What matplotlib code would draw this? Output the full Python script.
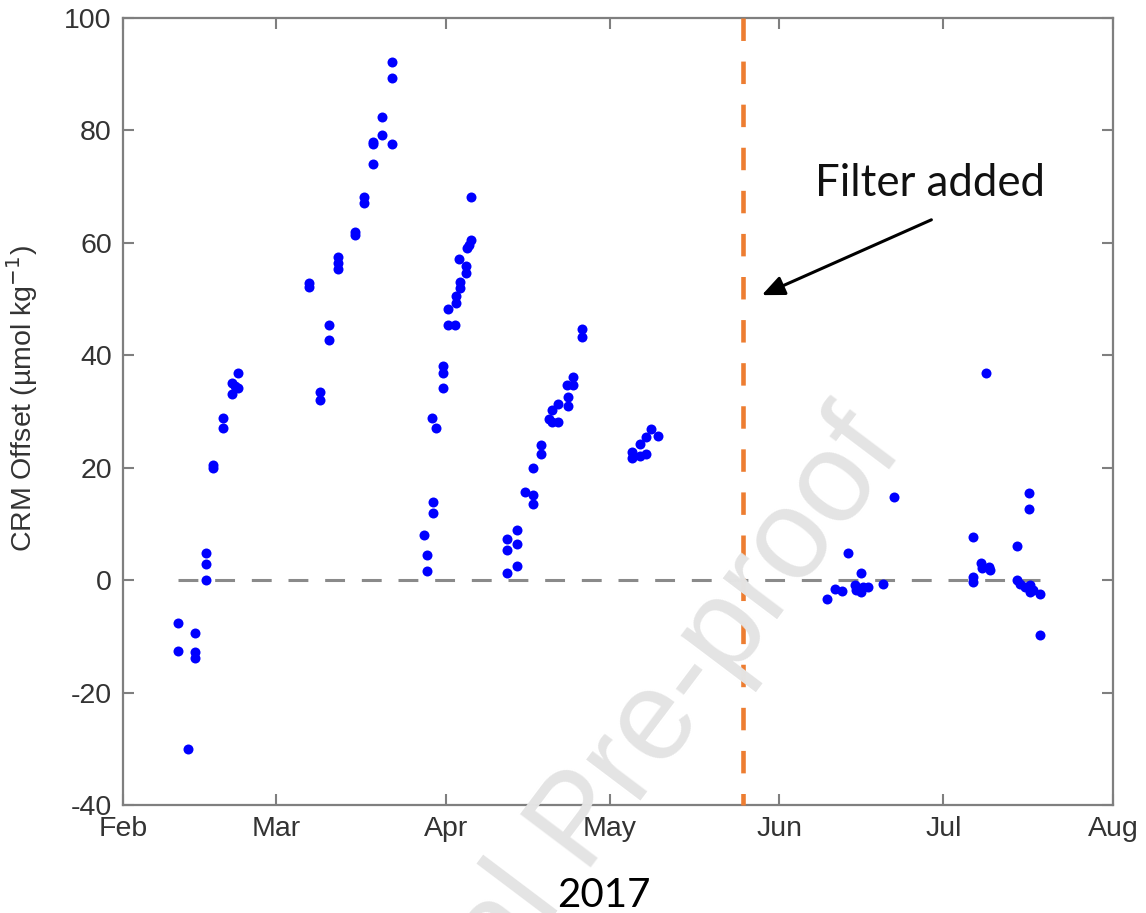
import numpy as np
import matplotlib
matplotlib.use("Agg")
import matplotlib.pyplot as plt
import matplotlib.dates as mdates

# ---- data (day of year 2017, CRM offset in umol/kg) ----
day_of_year = [
    42.1, 42.1, 43.8, 45.2, 45.2, 45.2, 47.2, 47.2, 47.2, 48.5, 48.5, 50.2, 50.2,
    51.9, 52.5, 51.9, 53.1, 53.1,
    66.0, 66.0, 68.0, 68.0, 69.7, 69.7, 71.4, 71.4, 71.4, 74.4, 74.4, 76.1, 76.1,
    77.8, 77.8, 77.8, 79.4, 79.4, 81.1, 81.1, 81.1,
    87.0, 87.5, 87.5, 88.6, 88.6, 88.5, 89.3, 90.5, 90.5, 90.5, 91.5, 91.5, 92.7,
    92.8, 92.8, 93.6, 93.6, 93.5, 94.8, 94.8, 94.9, 95.2, 95.6, 95.6,
    102.3, 102.3, 102.3, 104.0, 104.0, 104.0, 105.5, 107.0, 106.9, 106.9, 108.5,
    108.5, 109.9, 110.4, 111.6, 110.4, 111.6, 113.3, 113.3, 113.1, 114.3, 114.3,
    116.0, 116.0,
    125.1, 125.1, 126.5, 126.5, 127.7, 127.7, 128.6, 129.9,
    160.8, 162.2, 163.4, 164.6, 165.8, 166.4, 167.3, 168.3, 167.0, 166.1, 167.0,
    170.9, 173.0,
    187.4, 187.4, 187.4, 188.8, 189.0, 190.4, 190.5, 189.7,
    195.5, 195.5, 196.0, 196.9, 197.8, 197.8, 198.4, 199.6, 199.6, 197.6, 197.6,
]
crm_offset = [
    -7.7, -12.6, -30.0, -9.4, -12.8, -13.9, 4.9, 2.8, 0.0, 20.5, 20.0, 28.8, 27.0,
    35.1, 34.5, 33.2, 34.1, 36.8,
    52.8, 52.1, 33.5, 32.0, 45.4, 42.8, 57.5, 56.4, 55.3, 62.0, 61.4, 68.2, 67.0,
    78.0, 77.6, 74.0, 82.4, 79.2, 92.2, 89.4, 77.6,
    8.1, 4.4, 1.7, 13.9, 11.9, 28.8, 27.0, 38.1, 36.8, 34.2, 48.2, 45.4, 45.4,
    50.6, 49.3, 53.1, 51.9, 57.2, 55.9, 54.7, 59.0, 59.6, 60.5, 68.2,
    7.4, 5.3, 1.3, 9.0, 6.5, 2.5, 15.7, 15.1, 13.5, 20.0, 24.0,
    22.5, 28.6, 28.2, 28.2, 30.2, 31.4, 32.6, 31.0, 34.7, 36.1, 34.7,
    44.6, 43.3,
    22.8, 21.7, 24.2, 22.1, 25.5, 22.4, 26.9, 25.7,
    -3.3, -1.5, -1.9, 4.9, -0.9, -1.5, -1.2, -1.2, -2.1, -1.8, 1.3,
    -0.6, 14.7,
    7.7, 0.6, -0.3, 3.0, 2.1, 2.4, 1.8, 36.8,
    6.1, 0.0, -0.6, -1.3, -0.9, -2.1, -1.8, -2.5, -9.8, 15.5, 12.6,
]
month_starts = ["2017-02-01", "2017-03-01", "2017-04-01", "2017-05-01",
                "2017-06-01", "2017-07-01", "2017-08-01"]
month_labels = ["Feb", "Mar", "Apr", "May", "Jun", "Jul", "Aug"]
y_ticks = [-40, -20, 0, 20, 40, 60, 80, 100]
filter_day = 145.3
annot_text_pos = (179.6, 70.6)
annot_tail = (179.8, 64.1)
annot_tip = (148.8, 50.7)

# ---- conversion helpers ----
day0 = mdates.date2num(np.datetime64("2016-12-31"))
x = day0 + np.array(day_of_year)
y = np.array(crm_offset)
xticks = [mdates.date2num(np.datetime64(d)) for d in month_starts]

plt.rcParams["font.family"] = ["Liberation Sans", "DejaVu Sans"]
plt.rcParams["axes.unicode_minus"] = False

fig = plt.figure(figsize=(11.46, 9.13), dpi=100)
ax = fig.add_axes([0.1073, 0.1183, 0.9712 - 0.1073, 0.9803 - 0.1183])

gray = "#7f7f7f"
# zero line spanning the data
ax.plot([x.min(), x.max()], [0, 0], color="#8a8a8a", lw=2.2,
        dashes=(6.5, 5.5), zorder=1)
# data points
ax.plot(x, y, "o", color="#0000ff", ms=7.2, mec="none", zorder=3)
# filter line
fx = day0 + filter_day
ax.plot([fx, fx], [100, -40], color="#ed7d31", lw=3.3, dashes=(4.9, 4.5),
        zorder=4, clip_on=False)

ax.set_xlim(xticks[0], xticks[-1])
ax.set_ylim(-40, 100)
ax.set_xticks(xticks)
ax.set_xticklabels(month_labels)
ax.set_yticks(y_ticks)

ax.tick_params(direction="in", top=True, right=True, length=8, width=1.5,
               color=gray, labelsize=20.5, labelcolor="#333333", pad=8)
for s in ax.spines.values():
    s.set_color(gray)
    s.set_linewidth(1.6)

ax.set_ylabel("CRM Offset (\u00b5mol kg$^{-1}$)", fontsize=20.5, color="#333333")
ax.yaxis.set_label_coords(-0.084, 0.517)

# annotation
ax.text(day0 + annot_text_pos[0], annot_text_pos[1], "Filter added",
        family="Lato", fontsize=31.5, color="#111111", ha="center", va="center")
ax.annotate("", xy=(day0 + annot_tip[0], annot_tip[1]),
            xytext=(day0 + annot_tail[0], annot_tail[1]),
            arrowprops=dict(arrowstyle="-|>,head_length=0.8,head_width=0.35",
                            color="black", lw=2.2, mutation_scale=17,
                            shrinkA=0, shrinkB=0))

fig.text(604 / 1146, 1 - 895 / 913, "2017", family="Lato", fontsize=29,
         color="black", ha="center", va="center", zorder=11)

# watermark
fig.text(905 / 1146, 1 - 450 / 913, "Journal Pre-proof", fontsize=92,
         color="#e4e4e4", rotation=53, rotation_mode="anchor",
         ha="right", va="baseline", zorder=10)

fig.savefig("out.png", dpi=100)
